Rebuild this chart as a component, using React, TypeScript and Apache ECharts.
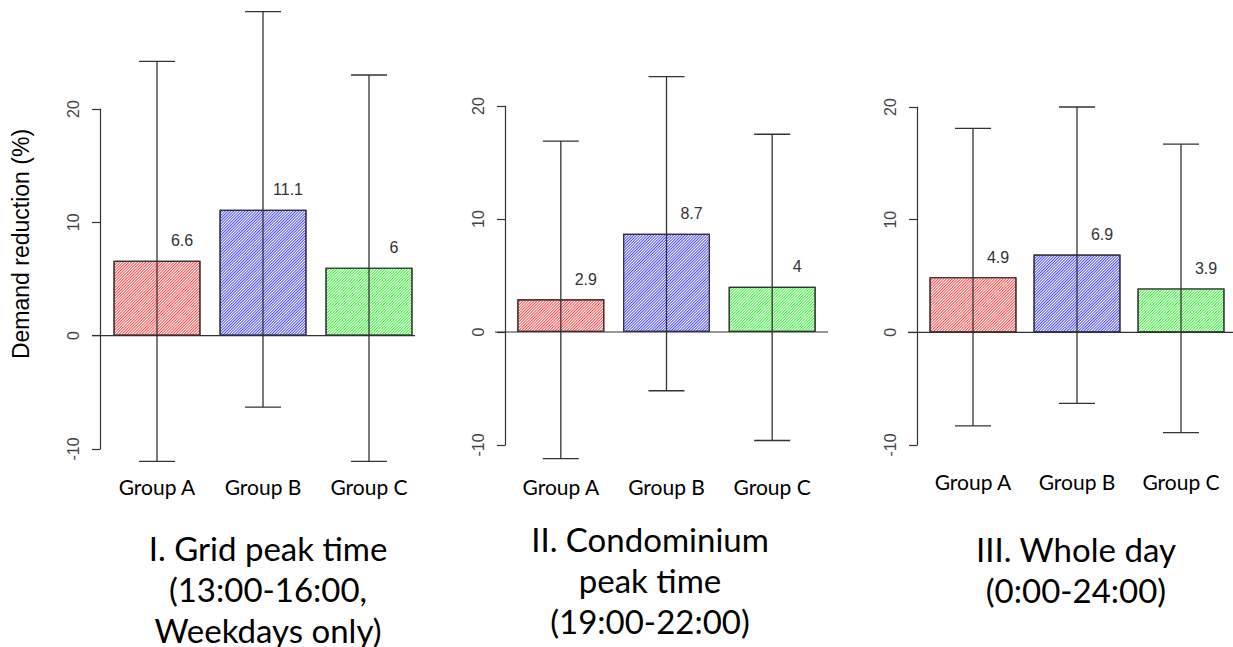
import React, { useEffect, useRef } from "react";
import * as echarts from "echarts";

// ---------- data ----------
const groups = ["Group A", "Group B", "Group C"];
const barColors = ["#ff4a4a", "#4a4aff", "#3cf03c"];

const p1Mean = [6.6, 11.1, 6];
const p1High = [24.2, 28.6, 23.0];
const p1Low = [-11.1, -6.3, -11.1];

const p2Mean = [2.9, 8.7, 4];
const p2High = [16.9, 22.6, 17.5];
const p2Low = [-11.2, -5.2, -9.6];

const p3Mean = [4.9, 6.9, 3.9];
const p3High = [18.1, 20.0, 16.7];
const p3Low = [-8.3, -6.3, -8.9];

const yTicksMin = -10;
const yTicksMax = 20;
const yTickStep = 10;

const titleLines = [
  ["I. Grid peak time", "(13:00-16:00,", "Weekdays only)"],
  ["II. Condominium", "peak time", "(19:00-22:00)"],
  ["III. Whole day", "(0:00-24:00)"],
];
const yAxisTitle = "Demand reduction (%)";

// ---------- layout (pixels, styles) ----------
const panels = [
  { left: 104, top: 109, width: 318, height: 340, axisOffset: 4, labelMargin: 27, baseExt: [-12, -7], titleX: 268, titleCenter: 548 },
  { left: 508, top: 106, width: 317, height: 339, axisOffset: 3, labelMargin: 31, baseExt: [-13, 3], titleX: 650, titleCenter: 539 },
  { left: 921, top: 107, width: 314, height: 338, axisOffset: 4, labelMargin: 26, baseExt: [-13, 0], titleX: 1076, titleCenter: 549 },
];
const means = [p1Mean, p2Mean, p3Mean];
const highs = [p1High, p2High, p3High];
const lows = [p1Low, p2Low, p3Low];

const INK = "#333";
const TITLE_SIZE = 33;
const TITLE_LH = 41;

function buildOption() {
  const grid: any[] = [];
  const xAxis: any[] = [];
  const yAxis: any[] = [];
  const series: any[] = [];
  const graphic: any[] = [];

  panels.forEach((p, i) => {
    grid.push({ left: p.left, top: p.top, width: p.width, height: p.height, containLabel: false });
    xAxis.push({
      type: "category",
      gridIndex: i,
      data: groups,
      boundaryGap: true,
      axisLine: { show: false, onZero: false },
      axisTick: { show: false },
      splitLine: { show: false },
      axisLabel: {
        margin: p.labelMargin,
        fontFamily: "Lato",
        fontSize: 21,
        color: "#000",
        interval: 0,
      },
    });
    yAxis.push({
      type: "value",
      gridIndex: i,
      min: yTicksMin,
      max: yTicksMax,
      interval: yTickStep,
      offset: p.axisOffset,
      axisLine: { show: true, lineStyle: { color: INK, width: 1.2 } },
      axisTick: { show: true, length: 8, lineStyle: { color: INK, width: 1.2 } },
      splitLine: { show: false },
      axisLabel: {
        rotate: 90,
        margin: 19,
        fontFamily: "Liberation Sans",
        fontSize: 16,
        color: "#444",
      },
    });

    // baseline at 0
    series.push({
      type: "custom",
      xAxisIndex: i,
      yAxisIndex: i,
      silent: true,
      z: 1,
      data: [[0, 0]],
      renderItem: (params: any, api: any) => {
        const cs = params.coordSys;
        const y = api.coord([0, 0])[1];
        return {
          type: "line",
          shape: { x1: cs.x + p.baseExt[0], y1: y, x2: cs.x + cs.width + p.baseExt[1], y2: y },
          style: { stroke: INK, lineWidth: 1.2 },
        };
      },
    });

    // bars
    series.push({
      type: "bar",
      xAxisIndex: i,
      yAxisIndex: i,
      barWidth: 87,
      z: 2,
      data: means[i].map((v, k) => ({
        value: v,
        itemStyle: {
          color: "#ffffff",
          borderColor: INK,
          borderWidth: 1.2,
          decal: {
            symbol: "rect",
            symbolSize: 1,
            color: barColors[k],
            dashArrayX: [1, 0],
            dashArrayY: [1, 1],
            rotation: -Math.PI / 4,
          },
        },
      })),
      label: {
        show: true,
        position: "top",
        offset: [25, -7],
        fontFamily: "Liberation Sans",
        fontSize: 16,
        color: INK,
        formatter: (d: any) => String(d.value),
      },
    });

    // error bars
    series.push({
      type: "custom",
      xAxisIndex: i,
      yAxisIndex: i,
      silent: true,
      clip: false,
      z: 5,
      data: groups.map((_, k) => [k, lows[i][k], highs[i][k]]),
      renderItem: (params: any, api: any) => {
        const idx = api.value(0);
        const lo = api.coord([idx, api.value(1)]);
        const hi = api.coord([idx, api.value(2)]);
        const hw = 18;
        const st = { stroke: INK, lineWidth: 1.3 };
        return {
          type: "group",
          children: [
            { type: "line", shape: { x1: lo[0], y1: lo[1], x2: hi[0], y2: hi[1] }, style: st },
            { type: "line", shape: { x1: lo[0] - hw, y1: lo[1], x2: lo[0] + hw, y2: lo[1] }, style: st },
            { type: "line", shape: { x1: hi[0] - hw, y1: hi[1], x2: hi[0] + hw, y2: hi[1] }, style: st },
          ],
        };
      },
    });

    // panel title
    graphic.push({
      type: "text",
      x: p.titleX,
      y: p.titleCenter - TITLE_LH / 2,
      style: {
        text: titleLines[i].join("\n"),
        fontFamily: "Lato",
        fontSize: TITLE_SIZE,
        lineHeight: TITLE_LH,
        fill: "#000",
        align: "center",
        verticalAlign: "top",
      },
    });
  });

  graphic.push({
    type: "text",
    x: 21,
    y: 244,
    rotation: Math.PI / 2,
    style: {
      text: yAxisTitle,
      fontFamily: "Liberation Sans",
      fontSize: 23,
      fill: "#000",
      align: "center",
      verticalAlign: "middle",
    },
  });

  return {
    animation: false,
    backgroundColor: "#ffffff",
    grid,
    xAxis,
    yAxis,
    series,
    graphic,
  };
}

export default function App() {
  const ref = useRef<HTMLDivElement>(null);
  useEffect(() => {
    if (!ref.current) return;
    const chart = echarts.init(ref.current, undefined, { renderer: "svg" });
    chart.setOption(buildOption() as any);
    return () => chart.dispose();
  }, []);
  return (
    <div
      ref={ref}
      style={{ position: "fixed", left: 0, top: 0, width: 1233, height: 647, background: "#fff" }}
    />
  );
}
